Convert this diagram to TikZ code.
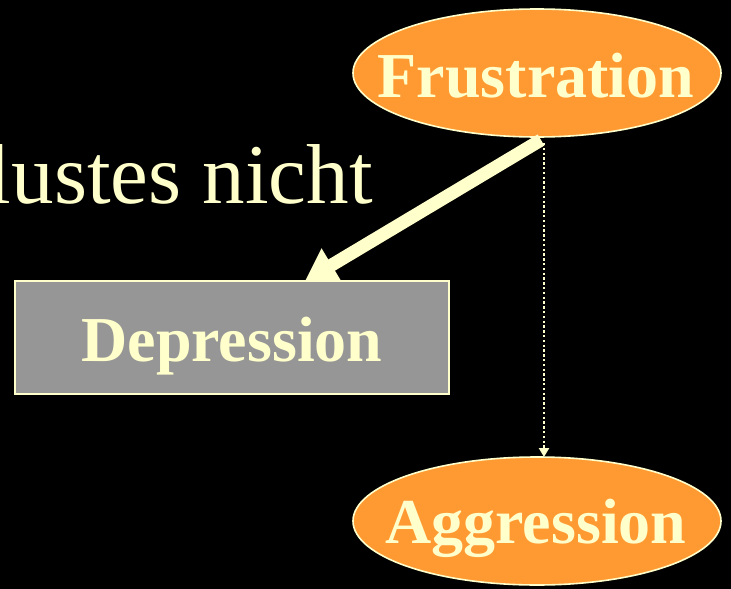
\documentclass[tikz,border=0pt]{standalone}
\usepackage{fontspec}
\setmainfont{Liberation Serif}
\usetikzlibrary{shapes.geometric,arrows.meta}
\definecolor{cream}{HTML}{FFFFCC}
\definecolor{orng}{HTML}{FF9A33}
\definecolor{boxgray}{HTML}{969696}
\tikzset{
  ell/.style={ellipse, draw=cream, line width=1.6pt, fill=orng, minimum width=368pt, minimum height=128pt, inner sep=0pt},
  lbl/.style={text=cream, font=\fontsize{64}{64}\selectfont\bfseries, inner sep=0pt, anchor=base},
  rectbox/.style={draw=cream, line width=1.6pt, fill=boxgray, minimum width=434pt, minimum height=113pt, inner sep=0pt, text=cream, font=\fontsize{64}{64}\selectfont\bfseries, text height=47pt, text depth=0pt},
  bigarrow/.style={draw=cream, line width=13pt, -{Triangle[width=37pt,length=31pt]}},
  dotarrow/.style={draw=cream, line width=2.4pt, dash pattern=on 2.4pt off 2.4pt, -{Triangle[width=10pt,length=9pt]}}
}
\begin{document}
\begin{tikzpicture}[x=1pt,y=-1pt]
\fill[black] (0,0) rectangle (731,589);
\useasboundingbox (0,0) rectangle (731,589);
\node[text=cream, font=\fontsize{85}{85}\selectfont, inner sep=0pt, anchor=base east] (title) at (373,203) {lustes nicht};
\node[ell] (f) at (537,73) {};
\node[lbl] (ft) at (536,97) {Frustration};
\node[ell] (a) at (537,521) {};
\node[lbl] (at) at (536,543) {Aggression};
\node[rectbox] (d) at (232,337.5) {Depression};
\coordinate (fs) at (541,140);
\coordinate (dtip) at (305,281);
\coordinate (ds) at (544,143);
\coordinate (atip) at (544,457);
\draw[bigarrow] (fs) -- (dtip);
\draw[dotarrow] (ds) -- (atip);
\end{tikzpicture}
\end{document}
